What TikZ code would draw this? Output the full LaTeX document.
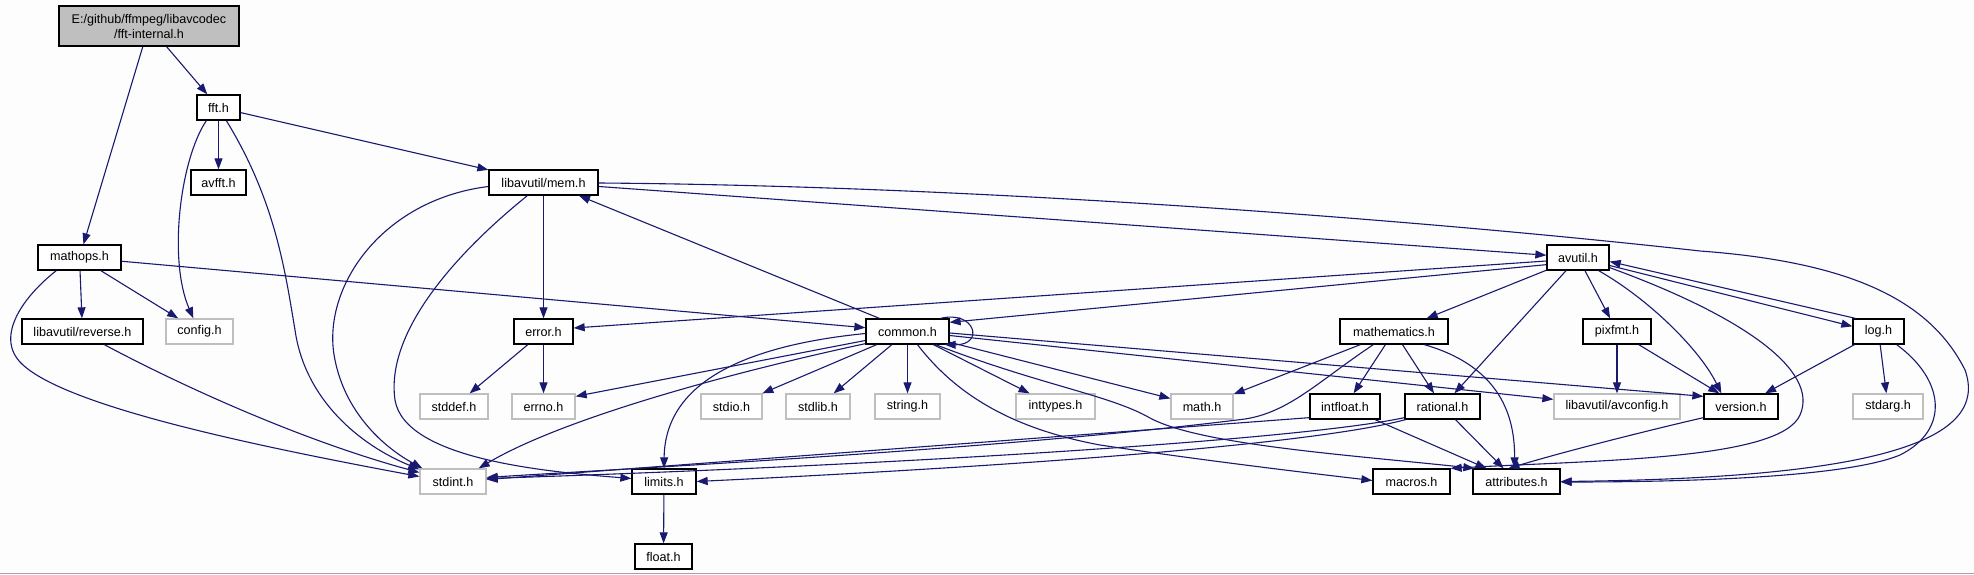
\documentclass[tikz,border=0pt]{standalone}
\usepackage{fontspec}
\setmainfont{Liberation Sans}
\usetikzlibrary{arrows.meta,calc}
\definecolor{edgeblue}{RGB}{25,25,112}
\definecolor{lightgraybox}{RGB}{191,191,191}
\definecolor{bg}{RGB}{252,253,252}
\tikzset{
  hbox/.style={draw=black, line width=1.3pt, fill=white, minimum height=25pt, inner sep=0pt,
    font=\fontsize{12.6}{15}\selectfont},
  gbox/.style={hbox, draw=lightgraybox},
  rootbox/.style={hbox, fill=lightgraybox, align=center, minimum height=40pt},
  e/.style={draw=edgeblue, line width=1.1pt, -{Triangle[length=11pt,width=8pt]}}
}
\begin{document}
\begin{tikzpicture}[x=1pt,y=-1pt]
\useasboundingbox (0,0) rectangle (1974,575);
\fill[bg] (0,0) rectangle (1974,575);
\draw[line width=1.5pt, draw={rgb,255:red,165;green,165;blue,165}] (0,573.5) -- (1974,573.5);

% nodes
\node[rootbox, minimum width=180pt] (root) at (149,26) {E:/github/ffmpeg/libavcodec\\/fft-internal.h};
\node[hbox, minimum width=43pt] (fft) at (218.5,107.5) {fft.h};
\node[hbox, minimum width=55pt] (avfft) at (218.5,182.5) {avfft.h};
\node[hbox, minimum width=109pt] (mem) at (543.5,182.5) {libavutil/mem.h};
\node[hbox, minimum width=83pt] (mathops) at (79.5,257.5) {mathops.h};
\node[hbox, minimum width=62pt] (avutil) at (1578,257.5) {avutil.h};
\node[hbox, minimum width=121pt] (reverse) at (82.5,331.5) {libavutil/reverse.h};
\node[gbox, minimum width=67pt] (config) at (199.5,331.5) {config.h};
\node[hbox, minimum width=59pt] (error) at (543.5,331.5) {error.h};
\node[hbox, minimum width=83pt] (common) at (907.5,331.5) {common.h};
\node[hbox, minimum width=108pt] (mathematics) at (1394,331.5) {mathematics.h};
\node[hbox, minimum width=68pt] (pixfmt) at (1617,331.5) {pixfmt.h};
\node[hbox, minimum width=51pt] (log) at (1878.5,331.5) {log.h};
\node[gbox, minimum width=68pt] (stddef) at (454,406.5) {stddef.h};
\node[gbox, minimum width=63pt] (errno) at (543.5,406.5) {errno.h};
\node[gbox, minimum width=61pt] (stdio) at (731.5,406.5) {stdio.h};
\node[gbox, minimum width=64pt] (stdlib) at (818,406.5) {stdlib.h};
\node[gbox, minimum width=65pt] (string) at (907.5,406.5) {string.h};
\node[gbox, minimum width=79pt] (inttypes) at (1055.5,406.5) {inttypes.h};
\node[gbox, minimum width=62pt] (math) at (1202,406.5) {math.h};
\node[hbox, minimum width=70pt] (intfloat) at (1345,406.5) {intfloat.h};
\node[hbox, minimum width=75pt] (rational) at (1442.5,406.5) {rational.h};
\node[gbox, minimum width=126pt] (avconfig) at (1617,406.5) {libavutil/avconfig.h};
\node[hbox, minimum width=74pt] (version) at (1741,406.5) {version.h};
\node[gbox, minimum width=70pt] (stdarg) at (1888,406.5) {stdarg.h};
\node[gbox, minimum width=66pt] (stdint) at (453,481.5) {stdint.h};
\node[hbox, minimum width=64pt] (limits) at (664,481.5) {limits.h};
\node[hbox, minimum width=77pt] (macros) at (1411.5,481.5) {macros.h};
\node[hbox, minimum width=87pt] (attributes) at (1516.5,481.5) {attributes.h};
\node[hbox, minimum width=57pt] (float) at (663.5,556.5) {float.h};

% edges
\draw[e] (root) -- (mathops);
\draw[e] (root) -- (fft);
\draw[e] (fft) -- (avfft);
\draw[e] (fft) -- (mem);
\draw[e] ($(fft.south west)+(10,0)$) .. controls (180,160) and (168,260) .. ($(config.north west)+(28,0)$);
\draw[e] ($(fft.south west)+(30,0)$) .. controls (275,200) and (285,270) .. (295,330) .. controls (305,400) and (360,445) .. ($(stdint.north west)+(0,1)$);
\draw[e] (mathops) -- (reverse);
\draw[e] (mathops) -- (config);
\draw[e] (mathops) -- (common);
\draw[e] ($(mathops.south west)+(19,0)$) .. controls (25,295) and (-5,335) .. (20,362) .. controls (60,405) and (250,445) .. ($(stdint.west)+(0,-5)$);
\draw[e] ($(reverse.south west)+(83,0)$) .. controls (180,385) and (300,440) .. ($(stdint.west)+(0,-9)$);
\draw[e] (mem) -- (error);
\draw[e] (mem) -- (avutil);
\draw[e] ($(mem.east)+(0,0.5)$) .. controls (1000,186) and (1450,223) .. (1700,251) .. controls (1850,262) and (1930,300) .. (1965,370) .. controls (1990,440) and (1880,478) .. (attributes.east);
\draw[e] ($(mem.west)+(0,4)$) .. controls (380,200) and (320,290) .. (335,360) .. controls (345,410) and (380,445) .. ($(stdint.north west)+(3,0)$);
\draw[e] ($(mem.south west)+(39,0)$) .. controls (460,250) and (385,330) .. (395,400) .. controls (405,460) and (550,472) .. ($(limits.west)+(0,-3)$);
\draw[e] (error) -- (stddef);
\draw[e] (error) -- (errno);
\draw[e] ($(common.north west)+(14,0)$) -- ($(mem.south)+(35.5,0)$);
\draw[e] ($(common.north east)+(-9,0)$) .. controls (975,310) and (985,345) .. ($(common.south east)+(-5,0)$);
\draw[e] ($(common.west)+(0,9)$) -- ($(errno.north east)+(0,3)$);
\draw[e] ($(common.south west)+(0,-1)$) .. controls (720,375) and (560,420) .. ($(stdint.north east)+(-8,0)$);
\draw[e] ($(common.west)+(0,2)$) .. controls (750,345) and (665,380) .. (limits.north);
\draw[e] (common) -- (stdio);
\draw[e] (common) -- (stdlib);
\draw[e] (common) -- (string);
\draw[e] (common) -- (inttypes);
\draw[e] (common) -- (math);
\draw[e] ($(common.south)+(10,0)$) .. controls (960,400) and (1020,430) .. (1100,445) .. controls (1200,460) and (1300,472) .. ($(macros.west)+(0,-1)$);
\draw[e] ($(common.south east)+(-14,0)$) .. controls (1040,385) and (1110,395) .. (1150,418) .. controls (1200,445) and (1350,455) .. ($(attributes.north west)+(2,0)$);
\draw[e] ($(common.east)+(0,4)$) -- ($(avconfig.north west)+(0,6)$);
\draw[e] ($(common.east)+(0,1.5)$) -- ($(version.north west)+(0,3)$);
\draw[e] ($(avutil.south west)+(0,-6)$) -- ($(common.north east)+(0,4)$);
\draw[e] ($(avutil.west)+(0,3.5)$) -- ($(error.east)+(0,-3.5)$);
\draw[e] (avutil) -- (mathematics);
\draw[e] (avutil) -- (rational);
\draw[e] (avutil) -- (pixfmt);
\draw[e] ($(avutil.south east)+(-11,0)$) .. controls (1650,300) and (1700,350) .. ($(version.north west)+(18,0)$);
\draw[e] ($(avutil.south east)+(0,-3)$) .. controls (1740,315) and (1820,370) .. (1800,415) .. controls (1780,460) and (1600,460) .. (macros.north east);
\draw[e] ($(avutil.east)+(0,8)$) -- ($(log.north west)+(0,8)$);
\draw[e] ($(log.north west)+(3,0)$) -- ($(avutil.east)+(0,4)$);
\draw[e] (log) -- (version);
\draw[e] (log) -- (stdarg);
\draw[e] ($(log.south east)+(-8,0)$) .. controls (1945,380) and (1950,430) .. (1900,455) .. controls (1840,480) and (1650,482) .. ($(attributes.east)+(0,0.5)$);
\draw[e] (mathematics) -- (math);
\draw[e] ($(mathematics.south west)+(34,0)$) .. controls (1320,380) and (1290,412) .. (1245,419) .. controls (1000,450) and (600,470) .. ($(stdint.east)+(0,-4)$);
\draw[e] (mathematics) -- (intfloat);
\draw[e] (mathematics) -- (rational);
\draw[e] ($(mathematics.south west)+(85,0)$) .. controls (1495,365) and (1515,410) .. ($(attributes.north)+(-2,0)$);
\draw[e] ($(intfloat.south west)+(0,-2)$) -- ($(stdint.east)+(0,-2)$);
\draw[e] (intfloat) -- (attributes);
\draw[e] ($(rational.south west)+(0,-2)$) .. controls (1300,440) and (900,465) .. ($(stdint.east)+(0,-3)$);
\draw[e] ($(rational.south west)+(1,0)$) .. controls (1330,440) and (1100,462) .. (limits.east);
\draw[e] (rational) -- (attributes);
\draw[e] (pixfmt) -- (avconfig);
\draw[e] (pixfmt) -- (version);
\draw[e] ($(version.south west)+(0,-2)$) .. controls (1650,430) and (1570,450) .. ($(attributes.north)+(-8,0)$);
\draw[e] (limits) -- (float);
\end{tikzpicture}
\end{document}
